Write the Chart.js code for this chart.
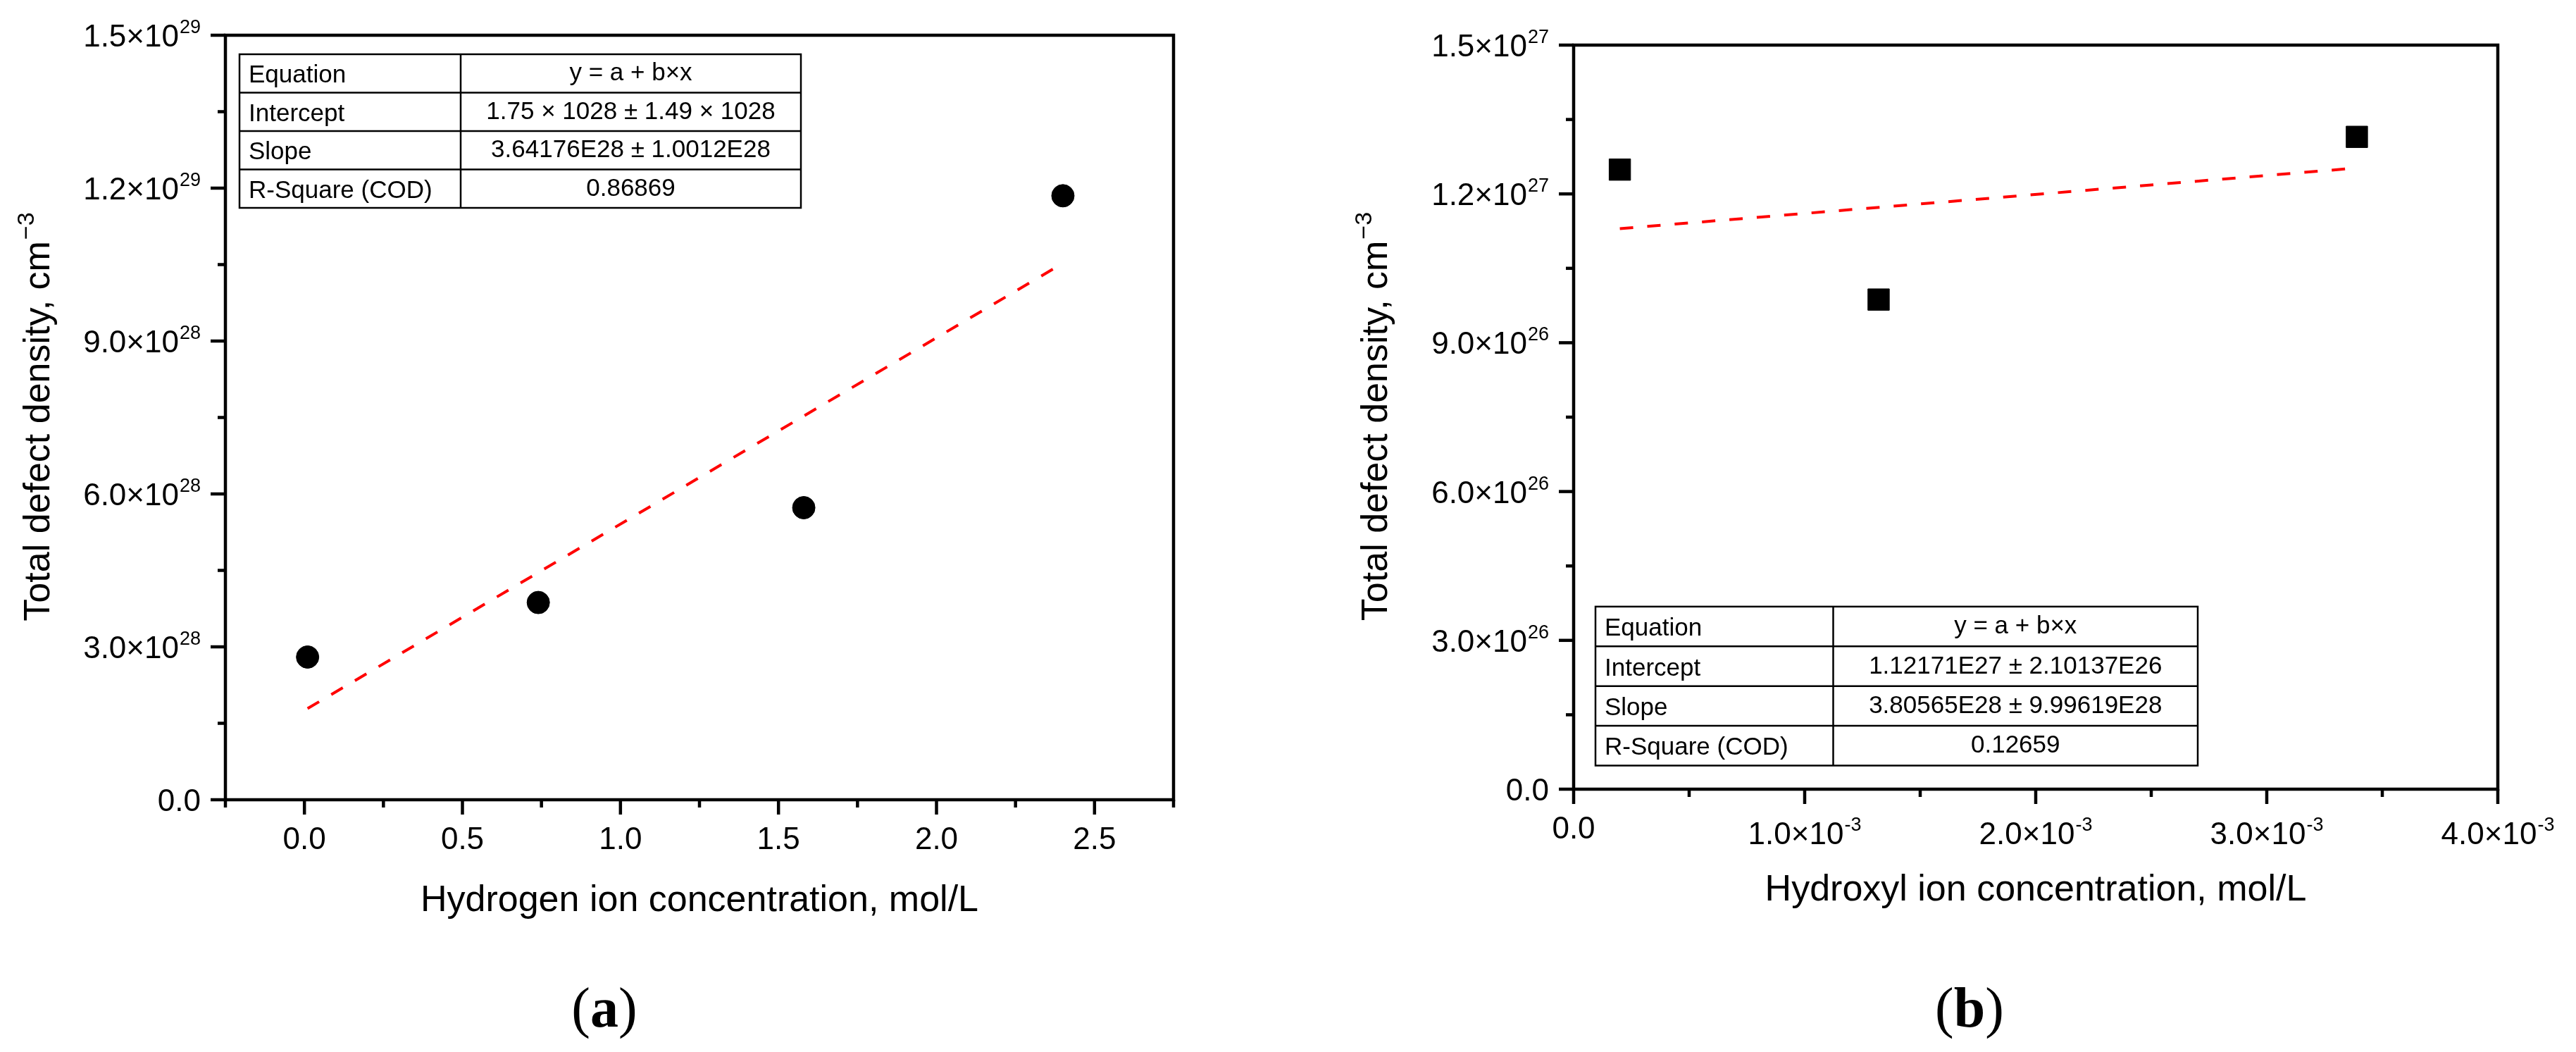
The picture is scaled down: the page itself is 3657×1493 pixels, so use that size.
<!DOCTYPE html>
<html><head><meta charset="utf-8">
<script src="https://cdn.jsdelivr.net/npm/chart.js@4.4.1/dist/chart.umd.min.js"></script>
<style>
html,body{margin:0;padding:0;background:#fff;width:3657px;height:1493px;overflow:hidden}
canvas{position:absolute;top:0}
#ca{left:0}
#cb{left:1830px}
</style></head><body>
<canvas id="ca" width="1830" height="1493"></canvas>
<canvas id="cb" width="1827" height="1493"></canvas>
<script>
// ---------------- data ----------------
const hydrogenX = [0.01, 0.74, 1.58, 2.40];
const hydrogenDefect = [2.80e28, 3.87e28, 5.73e28, 1.185e29];
const hydrogenFitX = [0.01, 2.39];
const hydrogenFitY = [1.79e28, 1.049e29];

const hydroxylX = [0.0002, 0.00132, 0.00339];
const hydroxylDefect = [1.249e27, 0.987e27, 1.315e27];
const hydroxylFitX = [0.0002, 0.00336];
const hydroxylFitY = [1.130e27, 1.251e27];

// tick values and labels
const hXTicks = [0, 0.5, 1.0, 1.5, 2.0, 2.5];
const hXTickMant = ["0.0", "0.5", "1.0", "1.5", "2.0", "2.5"];
const hXTickExp = ["", "", "", "", "", ""];
const hXMinor = [-0.25, 0.25, 0.75, 1.25, 1.75, 2.25, 2.75];
const hYTicks = [0, 3e28, 6e28, 9e28, 1.2e29, 1.5e29];
const hYTickMant = ["0.0", "3.0×10", "6.0×10", "9.0×10", "1.2×10", "1.5×10"];
const hYTickExp = ["", "28", "28", "28", "29", "29"];
const hYMinor = [1.5e28, 4.5e28, 7.5e28, 1.05e29, 1.35e29];

const oXTicks = [0, 1e-3, 2e-3, 3e-3, 4e-3];
const oXTickMant = ["0.0", "1.0×10", "2.0×10", "3.0×10", "4.0×10"];
const oXTickExp = ["", "-3", "-3", "-3", "-3"];
const oXMinor = [0.5e-3, 1.5e-3, 2.5e-3, 3.5e-3];
const oYTicks = [0, 3e26, 6e26, 9e26, 1.2e27, 1.5e27];
const oYTickMant = ["0.0", "3.0×10", "6.0×10", "9.0×10", "1.2×10", "1.5×10"];
const oYTickExp = ["", "26", "26", "26", "27", "27"];
const oYMinor = [1.5e26, 4.5e26, 7.5e26, 1.05e27, 1.35e27];

// fit tables
const tableRowNames = ["Equation", "Intercept", "Slope", "R-Square (COD)"];
const tableAValues = ["y = a + b×x", "1.75 × 1028 ± 1.49 × 1028", "3.64176E28 ± 1.0012E28", "0.86869"];
const tableBValues = ["y = a + b×x", "1.12171E27 ± 2.10137E26", "3.80565E28 ± 9.99619E28", "0.12659"];

const yTitleText = "Total defect density, cm";
const yTitleSup = "−3";
const xTitleA = "Hydrogen ion concentration, mol/L";
const xTitleB = "Hydroxyl ion concentration, mol/L";

// ---------------- drawing helpers ----------------
const SANS = '"Liberation Sans", Arial, Helvetica, sans-serif';
const SERIF = '"Liberation Serif", "Times New Roman", serif';
const MAIN_PX = 44, SUP_PX = 27, SUP_RISE = 19;

function measureLabel(ctx, mant, exp) {
  ctx.font = MAIN_PX + 'px ' + SANS;
  const wm = ctx.measureText(mant).width;
  ctx.font = SUP_PX + 'px ' + SANS;
  const we = exp ? ctx.measureText(exp).width + 1 : 0;
  return [wm, we];
}
function drawLabel(ctx, mant, exp, x0, baseline) {
  const [wm] = measureLabel(ctx, mant, exp);
  ctx.textAlign = 'left';
  ctx.textBaseline = 'alphabetic';
  ctx.font = MAIN_PX + 'px ' + SANS;
  ctx.fillText(mant, x0, baseline);
  if (exp) {
    ctx.font = SUP_PX + 'px ' + SANS;
    ctx.fillText(exp, x0 + wm + 1, baseline - SUP_RISE);
  }
}

function decorPlugin(cfg) {
  return {
    id: 'decor',
    afterDraw(chart) {
      const ctx = chart.ctx;
      const ca = chart.chartArea;
      const xs = chart.scales.x, ys = chart.scales.y;
      ctx.save();
      ctx.fillStyle = '#000';
      ctx.strokeStyle = '#000';
      ctx.lineCap = 'butt';
      // ticks
      ctx.lineWidth = 4.5;
      const tick = (x1, y1, x2, y2) => { ctx.beginPath(); ctx.moveTo(x1, y1); ctx.lineTo(x2, y2); ctx.stroke(); };
      cfg.xMajor.forEach(v => { const p = xs.getPixelForValue(v); tick(p, ca.bottom, p, ca.bottom + 21); });
      cfg.xMinor.forEach(v => { const p = xs.getPixelForValue(v); tick(p, ca.bottom, p, ca.bottom + 11); });
      cfg.yMajor.forEach(v => { const p = ys.getPixelForValue(v); tick(ca.left, p, ca.left - 21, p); });
      cfg.yMinor.forEach(v => { const p = ys.getPixelForValue(v); tick(ca.left, p, ca.left - 11, p); });
      // frame
      ctx.lineJoin = 'miter';
      ctx.strokeRect(ca.left, ca.top, ca.right - ca.left, ca.bottom - ca.top);
      // x tick labels
      cfg.xMajor.forEach((v, i) => {
        const p = xs.getPixelForValue(v);
        const [wm, we] = measureLabel(ctx, cfg.xMant[i], cfg.xExp[i]);
        const base = ca.bottom + (cfg.xExp[i] ? 78 : 70);
        drawLabel(ctx, cfg.xMant[i], cfg.xExp[i], p - (wm + we) / 2, base);
      });
      // y tick labels
      cfg.yMajor.forEach((v, i) => {
        const p = ys.getPixelForValue(v);
        const [wm, we] = measureLabel(ctx, cfg.yMant[i], cfg.yExp[i]);
        drawLabel(ctx, cfg.yMant[i], cfg.yExp[i], ca.left - 35 - (wm + we), p + 16);
      });
      // x title
      ctx.font = '52px ' + SANS;
      ctx.textAlign = 'center';
      ctx.textBaseline = 'alphabetic';
      ctx.fillText(cfg.xTitle, (ca.left + ca.right) / 2, ca.bottom + 158);
      // y title (rotated)
      ctx.save();
      ctx.translate(cfg.yTitleX, (ca.top + ca.bottom) / 2);
      ctx.rotate(-Math.PI / 2);
      ctx.font = '52px ' + SANS;
      const w1 = ctx.measureText(yTitleText).width;
      ctx.font = '34px ' + SANS;
      const w2 = ctx.measureText(yTitleSup).width;
      const start = -(w1 + w2) / 2;
      ctx.textAlign = 'left';
      ctx.font = '52px ' + SANS;
      ctx.fillText(yTitleText, start, 0);
      ctx.font = '34px ' + SANS;
      ctx.fillText(yTitleSup, start + w1 + 2, -22);
      ctx.restore();
      // table
      const t = cfg.table;
      const tl = ca.left + t.dx, tt = t.fromBottom ? ca.bottom - t.dy - t.rowH * 4 : ca.top + t.dy;
      ctx.lineWidth = 2.5;
      ctx.strokeRect(tl, tt, t.w, t.rowH * 4);
      ctx.beginPath();
      for (let r = 1; r < 4; r++) { ctx.moveTo(tl, tt + r * t.rowH); ctx.lineTo(tl + t.w, tt + r * t.rowH); }
      ctx.moveTo(tl + t.div, tt); ctx.lineTo(tl + t.div, tt + 4 * t.rowH);
      ctx.stroke();
      ctx.font = '35px ' + SANS;
      for (let r = 0; r < 4; r++) {
        const mid = tt + r * t.rowH + t.rowH / 2;
        ctx.textAlign = 'left';
        ctx.fillText(tableRowNames[r], tl + 13, mid + 13);
        ctx.textAlign = 'center';
        ctx.fillText(t.values[r], tl + t.div + (t.w - t.div) / 2, mid + 10);
      }
      // caption "(a)" / "(b)"
      ctx.textAlign = 'left';
      ctx.font = '80px ' + SERIF;
      const wp = ctx.measureText('(').width;
      ctx.font = 'bold 80px ' + SERIF;
      const wl = ctx.measureText(cfg.caption).width;
      ctx.font = '80px ' + SERIF;
      const wq = ctx.measureText(')').width;
      let cx = cfg.captionX - (wp + wl + wq) / 2;
      const cb = 1457;
      ctx.fillText('(', cx, cb); cx += wp;
      ctx.font = 'bold 80px ' + SERIF; ctx.fillText(cfg.caption, cx, cb); cx += wl;
      ctx.font = '80px ' + SERIF; ctx.fillText(')', cx, cb);
      ctx.restore();
    }
  };
}

function makeChart(id, c) {
  const pts = c.px.map((x, i) => ({ x: x, y: c.py[i] }));
  const fit = c.fx.map((x, i) => ({ x: x, y: c.fy[i] }));
  return new Chart(document.getElementById(id), {
    type: 'scatter',
    data: {
      datasets: [
        { data: fit, showLine: true, borderColor: '#ff0000', borderWidth: 4, borderDash: [19, 20],
          pointRadius: 0, fill: false, tension: 0 },
        { data: pts, showLine: false, pointStyle: c.marker, pointRadius: c.radius,
          backgroundColor: '#000', borderColor: '#000', borderWidth: 1 }
      ]
    },
    options: {
      responsive: false, animation: false, devicePixelRatio: 1, events: [],
      layout: { padding: { left: 0, top: c.padTop, right: c.padRight, bottom: 0 } },
      plugins: { legend: { display: false }, tooltip: { enabled: false } },
      scales: {
        x: { type: 'linear', min: c.xmin, max: c.xmax, ticks: { display: false },
             grid: { display: false }, border: { display: false },
             afterFit: s => { s.height = c.xAxisH; } },
        y: { type: 'linear', min: c.ymin, max: c.ymax, ticks: { display: false },
             grid: { display: false }, border: { display: false },
             afterFit: s => { s.width = c.yAxisW; } }
      }
    },
    plugins: [decorPlugin(c.decor)]
  });
}

makeChart('ca', {
  px: hydrogenX, py: hydrogenDefect, fx: hydrogenFitX, fy: hydrogenFitY,
  marker: 'circle', radius: 16,
  xmin: -0.25, xmax: 2.75, ymin: 0, ymax: 1.5e29,
  padTop: 50, padRight: 1830 - 1666, xAxisH: 1493 - 1135, yAxisW: 320,
  decor: {
    xMajor: hXTicks, xMant: hXTickMant, xExp: hXTickExp, xMinor: hXMinor,
    yMajor: hYTicks, yMant: hYTickMant, yExp: hYTickExp, yMinor: hYMinor,
    xTitle: xTitleA, yTitleX: 70,
    table: { dx: 20, dy: 27, fromBottom: false, w: 797, div: 314, rowH: 54.5, values: tableAValues },
    caption: 'a', captionX: 858
  }
});

makeChart('cb', {
  px: hydroxylX, py: hydroxylDefect, fx: hydroxylFitX, fy: hydroxylFitY,
  marker: 'rect', radius: 21.5,
  xmin: 0, xmax: 4e-3, ymin: 0, ymax: 1.5e27,
  padTop: 64, padRight: 1827 - 1716, xAxisH: 1493 - 1120, yAxisW: 404,
  decor: {
    xMajor: oXTicks, xMant: oXTickMant, xExp: oXTickExp, xMinor: oXMinor,
    yMajor: oYTicks, yMant: oYTickMant, yExp: oYTickExp, yMinor: oYMinor,
    xTitle: xTitleB, yTitleX: 139,
    table: { dx: 31, dy: 33.5, fromBottom: true, w: 855, div: 337.5, rowH: 56.4, values: tableBValues },
    caption: 'b', captionX: 2796 - 1830
  }
});
</script>
</body></html>
